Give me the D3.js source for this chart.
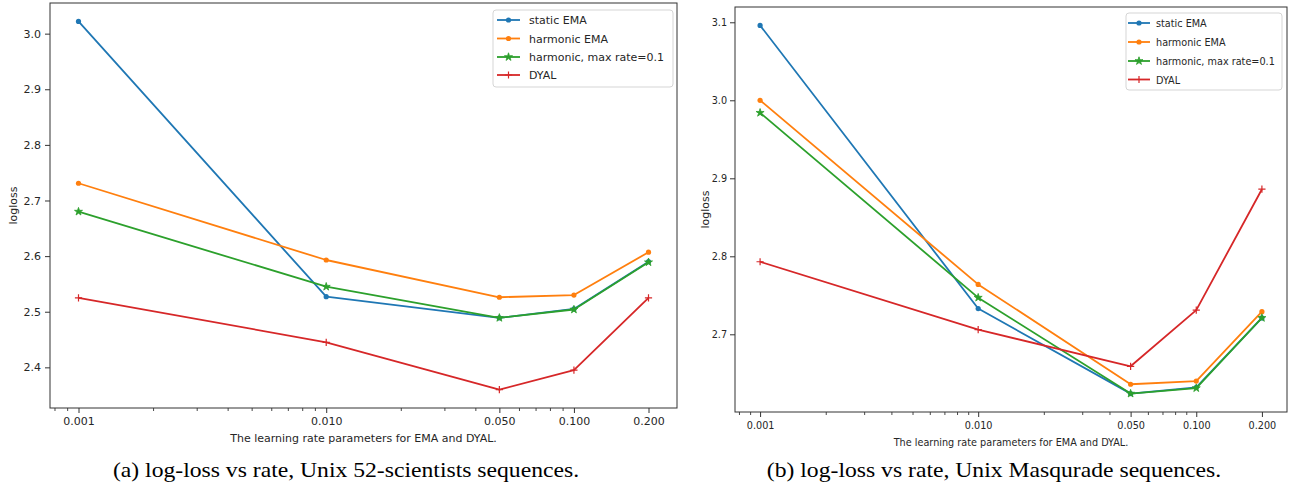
<!DOCTYPE html>
<html>
<head>
<meta charset="utf-8">
<script src="https://cdn.jsdelivr.net/npm/d3@7"></script>
<style>
  body { margin: 0; background: #fff; }
  svg { display: block; }
  text { font-family: "DejaVu Sans", sans-serif; fill: #262626; }
  .caption { font-family: "Liberation Serif", "Times New Roman", serif; font-size: 21.5px; fill: #000; }
</style>
</head>
<body>
<svg width="1296" height="487"></svg>
<script>
// learning rates on the x axis
const rates = [0.001, 0.01, 0.05, 0.1, 0.2];
const xTickLabels = ["0.001", "0.010", "0.050", "0.100", "0.200"];
const seriesNames = ["static EMA", "harmonic EMA", "harmonic, max rate=0.1", "DYAL"];
const colors = ["#1f77b4", "#ff7f0e", "#2ca02c", "#d62728"];
const markers = ["dot", "dot", "star", "plus"];

// (a) Unix 52-scientists
const sciStatic = [3.022, 2.527, 2.489, 2.505, 2.590];
const sciHarmonic = [2.731, 2.593, 2.526, 2.530, 2.607];
const sciHarmonicMax = [2.680, 2.545, 2.489, 2.504, 2.589];
const sciDyal = [2.525, 2.445, 2.360, 2.395, 2.525];
const yTicksA = [2.4, 2.5, 2.6, 2.7, 2.8, 2.9, 3.0];

// (b) Unix Masquerade
const masqStatic = [3.096, 2.733, 2.624, 2.632, 2.721];
const masqHarmonic = [3.000, 2.764, 2.636, 2.640, 2.729];
const masqHarmonicMax = [2.984, 2.747, 2.624, 2.631, 2.721];
const masqDyal = [2.793, 2.706, 2.659, 2.731, 2.886];
const yTicksB = [2.7, 2.8, 2.9, 3.0, 3.1];

const svg = d3.select("svg");

function drawPanel(cfg) {
    const sx = cfg.squeeze;
    const g = svg.append("g");
    const series = cfg.series;

    // matplotlib style 5% margins
    const lo = Math.log10(rates[0]), hi = Math.log10(rates[rates.length - 1]);
    const pad = (hi - lo) * 0.05;
    const x = d3.scaleLog()
        .domain([Math.pow(10, lo - pad), Math.pow(10, hi + pad)])
        .range([cfg.left, cfg.right]);

    const all = d3.merge(series);
    const ymin = d3.min(all), ymax = d3.max(all);
    const ypad = (ymax - ymin) * 0.05;
    const y = d3.scaleLinear()
        .domain([ymin - ypad, ymax + ypad])
        .range([cfg.bottom, cfg.top]);

    // minor ticks on the log axis
    let minor = [];
    for (let k = -4; k <= 0; k++) {
        for (let m = 2; m <= 9; m++) {
            const v = m * Math.pow(10, k);
            if (v >= x.domain()[0] && v <= x.domain()[1] && rates.indexOf(+v.toFixed(6)) < 0) minor.push(v);
        }
    }

    const xMinor = g.append("g")
        .attr("transform", "translate(0," + cfg.bottom + ")")
        .call(d3.axisBottom(x).tickValues(minor).tickSize(3).tickFormat(""));
    xMinor.select(".domain").remove();
    xMinor.selectAll("line").attr("stroke", "#333").attr("stroke-width", 0.9);

    const xAxis = g.append("g")
        .attr("transform", "translate(0," + cfg.bottom + ")")
        .call(d3.axisBottom(x).tickValues(rates).tickSize(5).tickPadding(4)
            .tickFormat(function (d, i) { return xTickLabels[i]; }));
    xAxis.select(".domain").remove();
    xAxis.selectAll("line").attr("stroke", "#333").attr("stroke-width", 1);
    xAxis.selectAll("text").attr("font-size", 11).attr("font-family", "DejaVu Sans")
        .attr("fill", "#262626").attr("transform", "scale(" + sx + ",1)");

    const yAxis = g.append("g")
        .attr("transform", "translate(" + cfg.left + ",0)")
        .call(d3.axisLeft(y).tickValues(cfg.yTicks).tickSize(5).tickPadding(4).tickFormat(d3.format(".1f")));
    yAxis.select(".domain").remove();
    yAxis.selectAll("line").attr("stroke", "#333").attr("stroke-width", 1);
    yAxis.selectAll("text").attr("font-size", 11).attr("font-family", "DejaVu Sans")
        .attr("fill", "#262626").attr("transform", "scale(" + sx + ",1)");

    // lines + markers
    const line = d3.line()
        .x(function (d, i) { return x(rates[i]); })
        .y(function (d) { return y(d); });

    series.forEach(function (vals, s) {
        g.append("path")
            .attr("d", line(vals))
            .attr("fill", "none")
            .attr("stroke", colors[s])
            .attr("stroke-width", 1.8)
            .attr("stroke-linejoin", "round");
        vals.forEach(function (v, i) {
            drawMarker(g, markers[s], x(rates[i]), y(v), colors[s]);
        });
    });

    // frame
    g.append("rect")
        .attr("x", cfg.left).attr("y", cfg.top)
        .attr("width", cfg.right - cfg.left).attr("height", cfg.bottom - cfg.top)
        .attr("fill", "none").attr("stroke", "#333").attr("stroke-width", 1);

    // legend
    const lg = cfg.legend;
    g.append("rect")
        .attr("x", lg.x0).attr("y", lg.y0)
        .attr("width", lg.x1 - lg.x0).attr("height", lg.y1 - lg.y0)
        .attr("rx", 3).attr("fill", "#fff").attr("stroke", "#d5d5d5").attr("stroke-width", 1);
    seriesNames.forEach(function (name, s) {
        const ly = lg.rows[s];
        g.append("line")
            .attr("x1", lg.lineX0).attr("x2", lg.lineX1).attr("y1", ly).attr("y2", ly)
            .attr("stroke", colors[s]).attr("stroke-width", 1.8);
        drawMarker(g, markers[s], (lg.lineX0 + lg.lineX1) / 2, ly, colors[s]);
        g.append("g").attr("transform", "translate(" + lg.textX + "," + (ly + 4) + ")")
            .append("text")
            .attr("transform", "scale(" + sx + ",1)")
            .attr("font-size", 11)
            .text(name);
    });

    // axis titles
    g.append("g").attr("transform", "translate(" + (cfg.left + cfg.right) / 2 + "," + cfg.xLabelY + ")")
        .append("text")
        .attr("transform", "scale(" + sx + ",1)")
        .attr("text-anchor", "middle").attr("font-size", 11)
        .text("The learning rate parameters for EMA and DYAL.");

    g.append("g").attr("transform", "translate(" + cfg.yLabelX + "," + (cfg.top + cfg.bottom) / 2 + ") rotate(-90)")
        .append("text")
        .attr("text-anchor", "middle").attr("font-size", 11)
        .text("logloss");

    // caption
    svg.append("g").attr("transform", "translate(" + cfg.captionX + ",477)")
        .append("text")
        .attr("class", "caption")
        .attr("transform", "scale(1.1,1)")
        .attr("text-anchor", "middle")
        .text(cfg.caption);
}

function drawMarker(g, type, cx, cy, color) {
    if (type === "dot") {
        g.append("circle").attr("cx", cx).attr("cy", cy).attr("r", 2.6).attr("fill", color);
    } else if (type === "star") {
        g.append("path")
            .attr("d", d3.symbol().type(d3.symbolStar).size(20)())
            .attr("transform", "translate(" + cx + "," + cy + ")")
            .attr("fill", color).attr("stroke", color).attr("stroke-width", 0.8);
    } else {
        g.append("path")
            .attr("d", "M-3.6,0H3.6M0,-3.6V3.6")
            .attr("transform", "translate(" + cx + "," + cy + ")")
            .attr("stroke", color).attr("stroke-width", 1.2).attr("fill", "none");
    }
}

drawPanel({
    left: 50, right: 677, top: 3, bottom: 408,
    series: [sciStatic, sciHarmonic, sciHarmonicMax, sciDyal],
    yTicks: yTicksA,
    squeeze: 1,
    xLabelY: 442, yLabelX: 17,
    legend: { x0: 493, x1: 673, y0: 10, y1: 87, rows: [20, 38.5, 57, 75], lineX0: 497, lineX1: 520, textX: 529 },
    captionX: 346,
    caption: "(a) log-loss vs rate, Unix 52-scientists sequences."
});

drawPanel({
    left: 735, right: 1287, top: 7, bottom: 412,
    series: [masqStatic, masqHarmonic, masqHarmonicMax, masqDyal],
    yTicks: yTicksB,
    squeeze: 0.88,
    xLabelY: 446, yLabelX: 709,
    legend: { x0: 1126, x1: 1282, y0: 13, y1: 90, rows: [23, 42, 61, 79.5], lineX0: 1128, lineX1: 1150, textX: 1156 },
    captionX: 994,
    caption: "(b) log-loss vs rate, Unix Masqurade sequences."
});
</script>
</body>
</html>
